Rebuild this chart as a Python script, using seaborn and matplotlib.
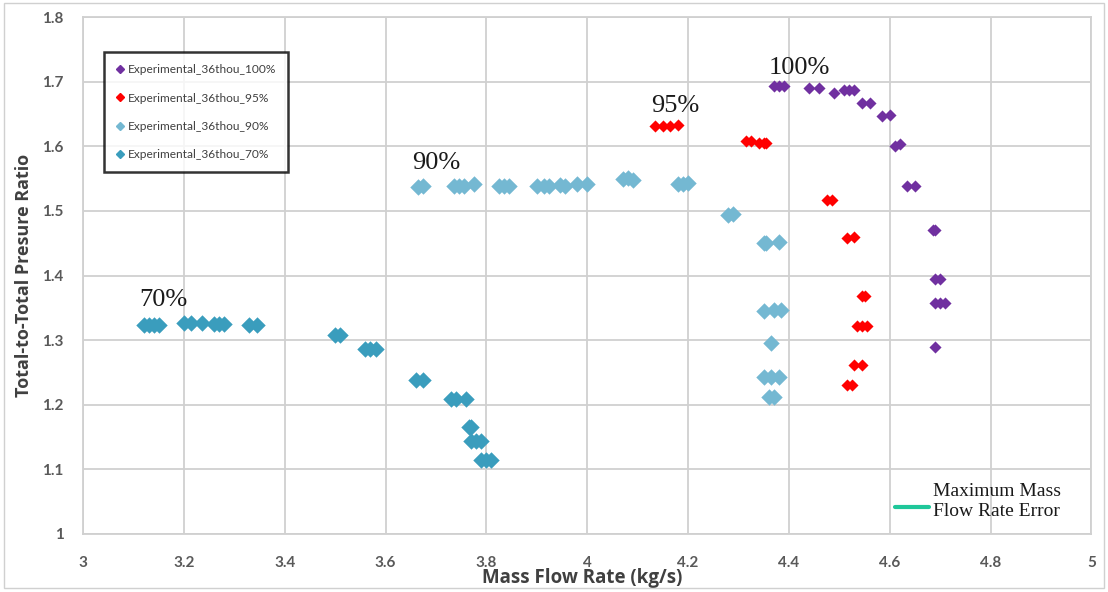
import pandas as pd
import matplotlib.pyplot as plt
import seaborn as sns
from matplotlib.lines import Line2D
from matplotlib.patches import Rectangle

# speed lines
x_100 = [4.37, 4.38, 4.39, 4.44, 4.46, 4.49, 4.51, 4.52, 4.53, 4.545, 4.56,
         4.585, 4.60, 4.61, 4.62, 4.635, 4.65, 4.685, 4.69, 4.69, 4.70,
         4.69, 4.70, 4.71, 4.69]
y_100 = [1.693, 1.693, 1.693, 1.690, 1.690, 1.683, 1.688, 1.688, 1.688, 1.667, 1.667,
         1.647, 1.649, 1.601, 1.604, 1.538, 1.538, 1.470, 1.471, 1.395, 1.395,
         1.358, 1.358, 1.358, 1.289]

x_95 = [4.135, 4.15, 4.165, 4.18, 4.315, 4.325, 4.34, 4.35, 4.355, 4.475, 4.485,
        4.515, 4.53, 4.545, 4.55, 4.535, 4.545, 4.555, 4.53, 4.545, 4.515, 4.525]
y_95 = [1.631, 1.631, 1.631, 1.633, 1.609, 1.609, 1.605, 1.605, 1.605, 1.517, 1.517,
        1.458, 1.460, 1.368, 1.368, 1.322, 1.322, 1.322, 1.262, 1.262, 1.230, 1.230]

x_90 = [3.665, 3.675, 3.735, 3.745, 3.755, 3.775, 3.825, 3.835, 3.845,
        3.90, 3.915, 3.925, 3.945, 3.955, 3.98, 4.00, 4.07, 4.08, 4.09,
        4.18, 4.19, 4.20, 4.28, 4.29, 4.35, 4.355, 4.38, 4.35, 4.37, 4.385,
        4.365, 4.35, 4.365, 4.38, 4.36, 4.37]
y_90 = [1.537, 1.539, 1.538, 1.538, 1.538, 1.541, 1.539, 1.538, 1.538,
        1.538, 1.539, 1.539, 1.540, 1.539, 1.541, 1.541, 1.549, 1.551, 1.548,
        1.541, 1.542, 1.543, 1.494, 1.495, 1.450, 1.450, 1.452, 1.345, 1.346, 1.347,
        1.295, 1.243, 1.243, 1.243, 1.212, 1.212]

x_70 = [3.12, 3.13, 3.14, 3.15, 3.20, 3.215, 3.235, 3.26, 3.27, 3.28, 3.33, 3.345,
        3.50, 3.51, 3.56, 3.57, 3.58, 3.66, 3.675, 3.73, 3.74, 3.76,
        3.765, 3.77, 3.77, 3.78, 3.79, 3.79, 3.80, 3.81]
y_70 = [1.323, 1.323, 1.323, 1.323, 1.326, 1.326, 1.326, 1.325, 1.325, 1.325, 1.323, 1.323,
        1.308, 1.308, 1.287, 1.287, 1.287, 1.238, 1.238, 1.209, 1.209, 1.209,
        1.165, 1.165, 1.144, 1.144, 1.144, 1.114, 1.114, 1.114]

series_names = ['Experimental_36thou_100%', 'Experimental_36thou_95%',
                'Experimental_36thou_90%', 'Experimental_36thou_70%']
series_x = [x_100, x_95, x_90, x_70]
series_y = [y_100, y_95, y_90, y_70]
colors = ['#7030a0', '#ff0000', '#74b8d2', '#3a9dbd']
sizes = [38, 38, 70, 70]

speed_labels = ['70%', '90%', '95%', '100%']
label_x = [3.16, 3.70, 4.175, 4.42]
label_y = [1.362, 1.574, 1.663, 1.722]

frames = []
for name, xs, ys in zip(series_names, series_x, series_y):
    frames.append(pd.DataFrame({'mass_flow': xs, 'pr': ys, 'series': name}))
df = pd.concat(frames, ignore_index=True)

sns.set_style('white')
fig, ax = plt.subplots(figsize=(11.08, 5.92), dpi=100)
fig.subplots_adjust(left=0.075, right=0.985, bottom=0.098, top=0.971)

for name, col, s in zip(series_names, colors, sizes):
    sub = df[df['series'] == name]
    sns.scatterplot(x='mass_flow', y='pr', data=sub, color=col, marker='D',
                    s=s, linewidth=0, ax=ax, legend=False, zorder=3)

ax.set_xlim(3, 5)
ax.set_ylim(1, 1.8)
ax.set_xticks([3, 3.2, 3.4, 3.6, 3.8, 4, 4.2, 4.4, 4.6, 4.8, 5])
ax.set_xticklabels(['3', '3.2', '3.4', '3.6', '3.8', '4', '4.2', '4.4', '4.6', '4.8', '5'])
ax.set_yticks([1, 1.1, 1.2, 1.3, 1.4, 1.5, 1.6, 1.7, 1.8])
ax.set_yticklabels(['1', '1.1', '1.2', '1.3', '1.4', '1.5', '1.6', '1.7', '1.8'])
ax.grid(True, color='#d0d0d0', linewidth=1.3)
ax.set_axisbelow(True)
for sp in ax.spines.values():
    sp.set_color('#d0d0d0')
    sp.set_linewidth(1.3)
ax.tick_params(axis='x', length=0, pad=16, labelsize=11, labelcolor='#595959')
ax.tick_params(axis='y', length=0, pad=14, labelsize=11, labelcolor='#595959')
for t in ax.get_xticklabels() + ax.get_yticklabels():
    t.set_fontfamily('Lato')
    t.set_fontweight('bold')

ax.set_xlabel('Mass Flow Rate (kg/s)', fontsize=13.5, fontweight='bold',
              fontfamily='Open Sans', color='#404040')
ax.set_ylabel('Total-to-Total Presure Ratio', fontsize=13, fontweight='bold',
              fontfamily='Open Sans', color='#404040')
ax.xaxis.set_label_coords(0.495, -0.066)
ax.yaxis.set_label_coords(-0.05, 0.5)

for txt, lx, ly in zip(speed_labels, label_x, label_y):
    ax.text(lx, ly, txt, fontsize=19, fontfamily='Liberation Serif',
            color='#1a1a1a', ha='center', va='center')

# error bar key, bottom right
ax.add_line(Line2D([0.805, 0.839], [0.052, 0.052], transform=ax.transAxes,
                   color='#1fc79a', linewidth=3))
ax.text(0.843, 0.063, 'Maximum Mass\nFlow Rate Error', transform=ax.transAxes,
        fontsize=14, fontfamily='Liberation Serif', color='#1a1a1a',
        ha='left', va='center', linespacing=1.2)

handles = [Line2D([], [], marker='D', linestyle='none', color=c, markersize=4)
           for c in colors]
leg = ax.legend(handles, series_names, loc='upper left',
                bbox_to_anchor=(0.021, 0.932), borderaxespad=0, fancybox=False,
                frameon=True, labelspacing=1.45, handlelength=0.6, handletextpad=0.4,
                borderpad=1.0, prop={'family': 'Lato', 'size': 8.6})
leg.get_frame().set_edgecolor('black')
leg.get_frame().set_linewidth(1.8)
for t in leg.get_texts():
    t.set_color('#404040')

fig.patches.append(Rectangle((0.004, 0.007), 0.992, 0.988, transform=fig.transFigure,
                             fill=False, edgecolor='#d0d0d0', linewidth=1))

plt.savefig('out.png', dpi=100)
plt.close()
